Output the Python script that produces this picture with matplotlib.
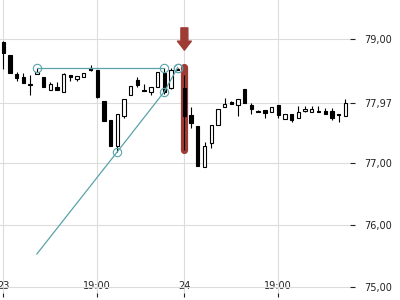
import numpy as np
import matplotlib
matplotlib.use('Agg')
import matplotlib.pyplot as plt

# candle values
opens = [78.96, 78.74, 78.43, 78.39, 78.27, 78.43, 78.38, 78.18, 78.23, 78.15,
         78.42, 78.36, 78.38, 78.53, 78.50, 78.00, 77.69, 77.28, 77.76, 78.10,
         78.34, 78.18, 78.14, 78.23, 78.45, 78.21, 78.52, 78.21, 77.77, 77.59,
         76.93, 77.32, 77.62, 77.91, 77.99, 77.93, 78.19, 77.94, 77.84, 77.85,
         77.82, 77.94, 77.71, 77.79, 77.72, 77.84, 77.82, 77.84, 77.84, 77.84,
         77.79, 77.75]
closes = [78.77, 78.45, 78.37, 78.29, 78.26, 78.47, 78.23, 78.27, 78.18, 78.43,
          78.38, 78.40, 78.45, 78.50, 78.07, 77.68, 77.28, 77.79, 78.03, 78.24,
          78.25, 78.16, 78.23, 78.46, 78.15, 78.50, 78.50, 77.76, 77.64, 76.95,
          77.27, 77.61, 77.87, 77.95, 77.95, 78.03, 77.97, 77.87, 77.82, 77.81,
          77.91, 77.77, 77.79, 77.69, 77.83, 77.87, 77.87, 77.83, 77.79, 77.73,
          77.77, 77.97]
highs = [78.97, 78.74, 78.46, 78.45, 78.42, 78.53, 78.39, 78.31, 78.31, 78.45,
         78.42, 78.40, 78.45, 78.58, 78.50, 78.00, 77.69, 77.79, 78.03, 78.24,
         78.39, 78.27, 78.23, 78.46, 78.54, 78.53, 78.53, 78.42, 77.90, 77.59,
         77.33, 77.61, 77.87, 78.04, 78.00, 78.03, 78.19, 77.97, 77.85, 77.85,
         77.91, 77.94, 77.79, 77.79, 77.92, 77.92, 77.92, 77.92, 77.88, 77.89,
         77.79, 78.03]
lows = [78.52, 78.45, 78.33, 78.29, 78.10, 78.43, 78.23, 78.18, 78.18, 78.15,
        78.32, 78.32, 78.38, 78.48, 78.04, 77.68, 77.28, 77.18, 77.73, 78.10,
        78.23, 78.16, 78.10, 78.23, 78.12, 78.20, 78.50, 77.21, 77.56, 76.95,
        76.93, 77.24, 77.62, 77.91, 77.95, 77.75, 77.96, 77.79, 77.82, 77.72,
        77.82, 77.72, 77.71, 77.66, 77.72, 77.83, 77.82, 77.83, 77.79, 77.70,
        77.66, 77.75]

x_tick_pos = [0, 14, 27, 41]
x_tick_labels = ['23', '19:00', '24', '19:00']
y_tick_pos = [75.0, 76.0, 77.0, 77.97, 79.0]
y_tick_labels = ['75,00', '76,00', '77,00', '77,97', '79,00']

# drawing tool: trend line and horizontal line
trend_x = [5, 17, 24, 26]
trend_y = [75.53, 77.18, 78.15, 78.54]
level_x = [5, 24]
level_y = [78.54, 78.54]
extra_pt_x = [26]
extra_pt_y = [78.54]

# highlighted candle
mark_idx = 27
mark_range = [78.555, 77.21]
arrow_range = [79.18, 78.82]

teal = '#5aa3a9'
red = '#9e3b35'

fig = plt.figure(figsize=(4, 3), dpi=100)
ax = fig.add_axes([0, 7 / 300, 350 / 400, 293 / 300])

x = np.arange(len(opens))
o = np.array(opens)
c = np.array(closes)

# red highlight behind the marked candle
ax.plot([mark_idx, mark_idx], mark_range, color=red, lw=5.2,
        solid_capstyle='round', zorder=2)

# candles
ax.vlines(x, lows, highs, color='black', lw=0.8, zorder=3)
heights = np.maximum(np.abs(c - o), 0.012)
faces = ['white' if cc >= oo else 'black' for oo, cc in zip(o, c)]
ax.bar(x, heights, bottom=np.minimum(o, c), width=0.5, color=faces,
       edgecolor='black', linewidth=0.8, zorder=4)

# drawing tools
ax.plot(trend_x, trend_y, color=teal, lw=0.9, zorder=5)
ax.plot(trend_x[1:], trend_y[1:], 'o', ms=6, mfc='none', mec=teal, mew=0.8, zorder=6)
ax.plot(level_x, level_y, color=teal, lw=0.9, zorder=5)
ax.plot(level_x + extra_pt_x, level_y + extra_pt_y, 'o', ms=6, mfc='none',
        mec=teal, mew=0.8, zorder=6)

ax.annotate('', xy=(mark_idx, arrow_range[1]), xytext=(mark_idx, arrow_range[0]),
            arrowprops=dict(arrowstyle='simple,head_length=0.65,head_width=1.0,tail_width=0.5',
                            color=red, mutation_scale=10, shrinkA=0, shrinkB=0),
            annotation_clip=False, zorder=7)

ax.set_xlim(-0.5, 51.7)
ax.set_ylim(74.90, 79.63)

ax.set_xticks(x_tick_pos)
ax.set_xticklabels(x_tick_labels)
ax.set_yticks(y_tick_pos)
ax.set_yticklabels(y_tick_labels)
ax.yaxis.tick_right()
ax.tick_params(axis='y', length=3.5, width=0.8, pad=7, labelsize=7,
               colors='#222222')
ax.tick_params(axis='x', length=3, width=0.8, pad=-11.5, labelsize=7,
               colors='#222222')

ax.grid(True, color='#dcdcdc', lw=0.8, zorder=0)
ax.set_axisbelow(True)
for s in ax.spines.values():
    s.set_visible(False)

fig.savefig('out.png', dpi=100)
